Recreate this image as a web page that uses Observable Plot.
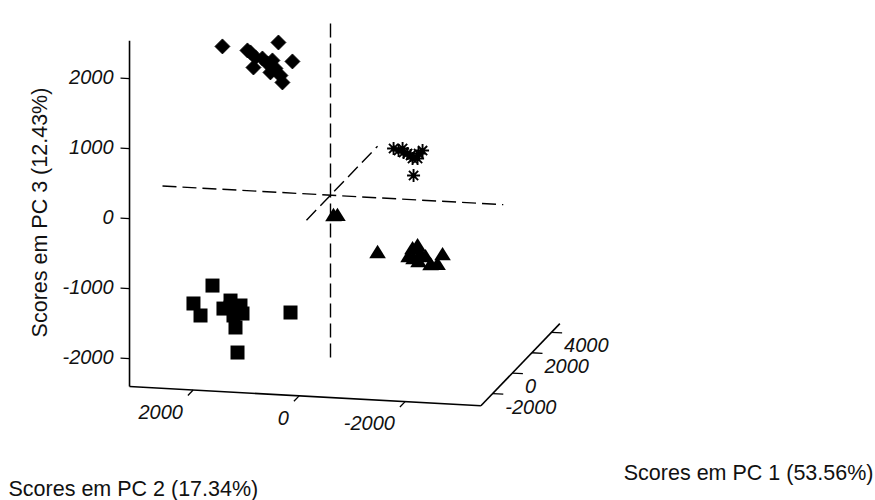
<!DOCTYPE html>
<html>
<head>
<meta charset="utf-8">
<script src="https://cdn.jsdelivr.net/npm/d3@7"></script>
<script src="https://cdn.jsdelivr.net/npm/@observablehq/plot@0.6"></script>
<style>
  html, body { margin: 0; padding: 0; background: #fff; }
  #chart svg { display: block; }
</style>
</head>
<body>
<div id="chart"></div>
<script>
// ---- Axis labels and ticks ----
const pc1Title = "Scores em PC 1 (53.56%)";
const pc2Title = "Scores em PC 2 (17.34%)";
const pc3Title = "Scores em PC 3 (12.43%)";
const pc1Ticks = [-2000, 0, 2000, 4000];
const pc2Ticks = [2000, 0, -2000];
const pc3Ticks = [-2000, -1000, 0, 1000, 2000];

// ---- Axis box limits and zero-line extents ----
const pc1Range = [-3200, 4850];
const pc2Range = [-3430, 3200];
const pc3Range = [-2400, 2540];
const pc1Zero = [-2450, 4800];
const pc2Zero = [3170, -3260];
const pc3Zero = [-2320, 2540];

// ---- Scores (PC1, PC2, PC3) per group ----
const diamondPC1 = [-1800, -1800, -1800, -1800, -1800, -1800, -1800, -1800, -1800, -1800, -1800, -1800, -1800, -1800];
const diamondPC2 = [1706, 649, 385, 1234, 1083, 1121, 951, 857, 762, 706, 611, 574, 800, 1177];
const diamondPC3 = [2317, 2417, 2157, 2279, 2186, 2040, 2176, 2109, 2156, 2044, 1947, 1849, 1983, 2253];

const starPC1 = [3800, 3800, 3800, 3800, 3800, 3800, 3800, 3800, 3800, 3800, 3800];
const starPC2 = [-487, -657, -751, -845, -940, -1034, -864, -675, -808, -958, -581];
const starPC3 = [133, 140, 73, 6, 9, 127, -237, 84, 46, 81, 109];

const trianglePC1 = [2800, 2800, 2800, 2800, 2800, 2800, 2800, 2800, 2800, 2800, 2800, 200, 200];
const trianglePC2 = [-370, -1030, -1125, -955, -1181, -1275, -1143, -1370, -1502, -1596, -1049, -19, -94];
const trianglePC3 = [-1197, -1113, -1066, -1230, -1179, -1217, -1294, -1327, -1321, -1176, -1256, -304, -300];

const squarePC1 = [-1500, -1500, -1500, -1500, -1500, -1500, -1500, -1500, -1500, -1500, -1500, -1500, -1500];
const squarePC2 = [1949, 2308, 2175, 1609, 1742, 1515, 1383, 1553, 1515, 1477, 477, 1609, 1421];
const squarePC3 = [-1153, -1424, -1590, -1353, -1473, -1449, -1529, -1564, -1734, -2090, -1477, -1453, -1416];

// ---- Oblique 3D projection onto the plane (u: horizontal, v: vertical) ----
const proj = (a, b, c) => ({u: -b + 0.185 * a, v: c + 0.1457 * a + 0.0414 * b});
const pts = (A, B, C) => A.map((a, i) => proj(a, B[i], C[i]));

// ---- Marker shapes (size = pi r^2) ----
const R = s => Math.sqrt(s / Math.PI);
const symSquare = {draw(ctx, s) { const r = R(s); ctx.rect(-r, -r, 2 * r, 2 * r); }};
const symDiamond = {draw(ctx, s) { const r = R(s); ctx.moveTo(0, -r); ctx.lineTo(r, 0); ctx.lineTo(0, r); ctx.lineTo(-r, 0); ctx.closePath(); }};
const symTriangle = {draw(ctx, s) { const r = R(s); ctx.moveTo(0, -0.8 * r); ctx.lineTo(r, 0.8 * r); ctx.lineTo(-r, 0.8 * r); ctx.closePath(); }};
const symStar = {draw(ctx, s) {
  const r = R(s), d = r * Math.SQRT1_2;
  ctx.moveTo(-r, 0); ctx.lineTo(r, 0);
  ctx.moveTo(0, -r); ctx.lineTo(0, r);
  ctx.moveTo(-d, -d); ctx.lineTo(d, d);
  ctx.moveTo(-d, d); ctx.lineTo(d, -d);
}};

// ---- Axis segments ----
const [x0, x1] = pc1Range, [y0, y1] = pc2Range, [z0, z1] = pc3Range;
const seg = (a, b) => ({p: proj(...a), q: proj(...b)});
const axes = [
  seg([x0, y1, z0], [x0, y1, z1]),   // PC3 axis
  seg([x0, y1, z0], [x0, y0, z0]),   // PC2 axis
  seg([x0, y0, z0], [x1, y0, z0])    // PC1 axis
];
const tickSegs = [
  ...pc3Ticks.map(t => seg([x0, y1, t], [x0, y1 + 170, t])),
  ...pc2Ticks.map(t => seg([x0, t, z0], [x0 - 530, t, z0])),
  ...pc1Ticks.map(t => seg([t, y0, z0], [t, y0 - 200, z0]))
];
const zeroLines = [
  seg([0, 0, pc3Zero[0]], [0, 0, pc3Zero[1]]),
  seg([0, pc2Zero[0], 0], [0, pc2Zero[1], 0]),
  seg([pc1Zero[0], 0, 0], [pc1Zero[1], 0, 0])
];
const pc3Lab = pc3Ticks.map(t => ({...proj(x0, y1 + 300, t), t}));
const pc2Lab = pc2Ticks.map(t => ({...proj(x0 - 530, t, z0), t}));
const pc1Lab = pc1Ticks.map(t => ({...proj(t, y0 - 200, z0), t}));

const link = (data, o) => Plot.link(data, {x1: d => d.p.u, y1: d => d.p.v, x2: d => d.q.u, y2: d => d.q.v, stroke: "#000", ...o});
const tickFont = {fontSize: 20, fontStyle: "italic", fill: "#111"};
const titleFont = {fontSize: 21.5, fill: "#111"};

const chart = Plot.plot({
  width: 875,
  height: 500,
  margin: 0,
  style: {background: "#fff", fontFamily: "'Liberation Sans', Arial, sans-serif"},
  x: {domain: [-6000, 6000], range: [12, 648], axis: null},
  y: {domain: [-2500, 2500], range: [369.7, 19.7], axis: null},
  marks: [
    link(zeroLines, {strokeWidth: 1.4, strokeDasharray: "14,6"}),
    link(axes, {strokeWidth: 1.6}),
    link(tickSegs, {strokeWidth: 1.3}),
    Plot.text(pc3Lab, {x: "u", y: "v", text: d => String(d.t), textAnchor: "end", lineAnchor: "middle", ...tickFont}),
    Plot.text(pc2Lab, {x: "u", y: "v", text: d => String(d.t), textAnchor: "end", lineAnchor: "middle", dx: -5, dy: 17, ...tickFont}),
    Plot.text(pc1Lab, {x: "u", y: "v", text: d => String(d.t), textAnchor: "start", lineAnchor: "middle", dx: 2, dy: 13, ...tickFont}),
    Plot.dot(pts(squarePC1, squarePC2, squarePC3), {x: "u", y: "v", symbol: symSquare, r: 7, fill: "#000", stroke: "none"}),
    Plot.dot(pts(diamondPC1, diamondPC2, diamondPC3), {x: "u", y: "v", symbol: symDiamond, r: 7.5, fill: "#000", stroke: "#000", strokeWidth: 0.8}),
    Plot.dot(pts(trianglePC1, trianglePC2, trianglePC3), {x: "u", y: "v", symbol: symTriangle, r: 8.3, fill: "#000", stroke: "none"}),
    Plot.dot(pts(starPC1, starPC2, starPC3), {x: "u", y: "v", symbol: symStar, r: 6.5, fill: "none", stroke: "#000", strokeWidth: 1.9}),
    Plot.text([pc2Title], {frameAnchor: "bottom-left", textAnchor: "start", lineAnchor: "bottom", dx: 8, dy: -5, ...titleFont}),
    Plot.text([pc1Title], {frameAnchor: "bottom-right", textAnchor: "end", lineAnchor: "bottom", dx: -2, dy: -21, ...titleFont}),
    Plot.text([pc3Title], {frameAnchor: "left", textAnchor: "middle", lineAnchor: "middle", rotate: -90, dx: 40, dy: -38, ...titleFont})
  ]
});
document.getElementById("chart").appendChild(chart);
</script>
</body>
</html>
